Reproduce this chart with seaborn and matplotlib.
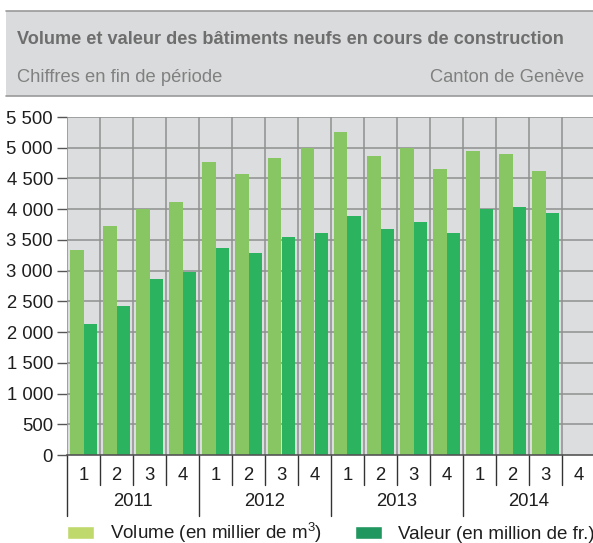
import numpy as np
import pandas as pd
import seaborn as sns
import matplotlib.pyplot as plt
from matplotlib.patches import Patch, Rectangle
from matplotlib.lines import Line2D

# Données trimestrielles (fin de période)
annees = ['2011', '2012', '2013', '2014']
trimestres = ['1', '2', '3', '4']
volume = [3330, 3720, 4005, 4120, 4760, 4580, 4830, 5000,
          5260, 4865, 5000, 4650, 4940, 4905, 4620, np.nan]
valeur = [2130, 2420, 2870, 2970, 3365, 3295, 3550, 3610,
          3895, 3680, 3790, 3610, 4005, 4040, 3940, np.nan]
serie_vol = 'Volume (en millier de m$^{3}$)'
serie_val = 'Valeur (en million de fr.)'

periodes = [f'{a}-{t}' for a in annees for t in trimestres]
df = pd.DataFrame({
    'periode': periodes * 2,
    'serie': [serie_vol] * 16 + [serie_val] * 16,
    'valeur': volume + valeur,
}).dropna()

sns.set_style('white')
plt.rcParams['font.family'] = ['Liberation Sans', 'DejaVu Sans']
plt.rcParams['mathtext.default'] = 'regular'

W, H = 593, 543
fig = plt.figure(figsize=(W / 100, H / 100), dpi=100)
ax = fig.add_axes([67 / W, 1 - 455 / H, 528 / W, 338 / H])

sns.barplot(data=df, x='periode', y='valeur', hue='serie', order=periodes,
            hue_order=[serie_vol, serie_val], palette=['#88C664', '#2BB35F'],
            saturation=1, width=0.8, linewidth=0, ax=ax, legend=False, zorder=3)

ax.set_facecolor('#DCDDDF')
ax.set_xlim(-0.5, 15.5)
ax.set_ylim(0, 5500)
ax.set_yticks(range(0, 5501, 500))
ax.set_yticklabels([f'{v:,}'.replace(',', ' ') for v in range(0, 5501, 500)])
ax.tick_params(axis='y', length=7, width=1, color='#555555', labelsize=13.3,
               labelcolor='#1E1E1E', pad=3, left=True)
ax.set_xticks([])
ax.set_xlabel('')
ax.set_ylabel('')
for s in ['top', 'right', 'left']:
    ax.spines[s].set_visible(False)
ax.spines['bottom'].set_color('#555555')
ax.spines['bottom'].set_linewidth(1.2)
ax.spines['bottom'].set_zorder(5)

# grille
for v in range(500, 5501, 500):
    ax.axhline(v, color='#8F8F8F', lw=1.1, zorder=1)
for i in range(17):
    ax.axvline(i - 0.5, color='#8F8F8F', lw=1.1, zorder=1)

# axe des x : trimestres et années
tr = ax.get_xaxis_transform()
for i, p in enumerate(periodes):
    ax.text(i, -0.062, p.split('-')[1], transform=tr, ha='center', va='center',
            fontsize=13.3, color='#1E1E1E')
    bas = -0.18 if i % 4 == 0 else -0.09
    ax.add_line(Line2D([i - 0.5, i - 0.5], [0, bas], transform=tr,
                       color='#333333', lw=1, clip_on=False))
for k, a in enumerate(annees):
    ax.text(4 * k + 1.5, -0.137, a, transform=tr, ha='center', va='center',
            fontsize=13.3, color='#1E1E1E')

# en-tête
fig.patches.append(Rectangle((6 / W, 1 - 96 / H), 1, 85 / H, transform=fig.transFigure,
                             facecolor='#DADBDC', edgecolor='none', zorder=0))
for yy in [11, 96]:
    fig.add_artist(Line2D([6 / W, 1], [1 - yy / H] * 2, color='#9A9A9A', lw=1.2))
fig.text(17 / W, 1 - 40 / H, 'Volume et valeur des bâtiments neufs en cours de construction',
         fontsize=13.1, fontweight='bold', color='#6E6E6E', va='center')
fig.text(17 / W, 1 - 77 / H, 'Chiffres en fin de période', fontsize=13.2,
         color='#808080', va='center')
fig.text(584 / W, 1 - 77 / H, 'Canton de Genève', fontsize=13.2,
         color='#808080', va='center', ha='right')

# légende
handles = [Patch(facecolor='#BFD96C'), Patch(facecolor='#20975F')]
fig.legend(handles, [serie_vol, serie_val], ncol=2, loc='center left',
           bbox_to_anchor=(67 / W, 1 - 533 / H), frameon=False, fontsize=13.5,
           handlelength=1.45, handleheight=0.72, handletextpad=0.85,
           columnspacing=1.75, borderpad=0, borderaxespad=0,
           labelcolor='#1E1E1E')

fig.savefig('out.png', dpi=100)
